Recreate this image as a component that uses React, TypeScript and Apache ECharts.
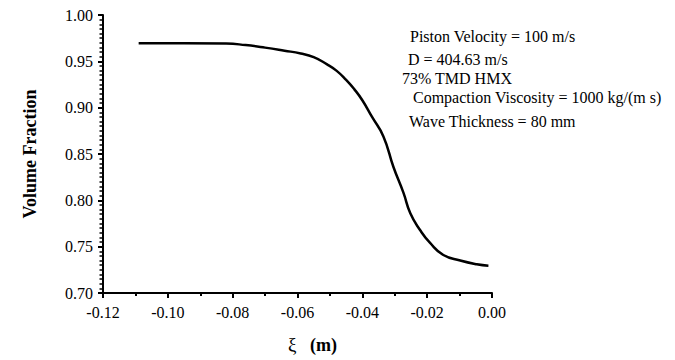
import React, { useEffect, useRef } from "react";
import * as echarts from "echarts";

const xiValues = [-0.109, -0.095, -0.082, -0.076, -0.070, -0.064, -0.059, -0.055, -0.051, -0.048, -0.045, -0.0425, -0.040, -0.037, -0.0335, -0.0304, -0.0273, -0.0252, -0.0222, -0.0191, -0.015, -0.0098, -0.0047, -0.0011];
const volumeFraction = [0.9695, 0.9695, 0.9692, 0.9675, 0.9648, 0.9615, 0.9585, 0.9545, 0.947, 0.940, 0.930, 0.920, 0.908, 0.890, 0.869, 0.836, 0.808, 0.786, 0.768, 0.754, 0.741, 0.735, 0.731, 0.7295];
const annotations = [
  "Piston Velocity = 100 m/s",
  "D = 404.63 m/s",
  "73% TMD HMX",
  "Compaction Viscosity = 1000 kg/(m s)",
  "Wave Thickness = 80 mm",
];

const FONT = "Liberation Serif";

export default function App() {
  const ref = useRef<HTMLDivElement>(null);
  useEffect(() => {
    if (!ref.current) return;
    const chart = echarts.init(ref.current, null, { renderer: "svg" });
    const fmt = (v: number) => (Math.abs(v) < 1e-9 ? "0.00" : v.toFixed(2));
    const annX = [410, 408, 402, 413, 409];
    const annY = [37, 60, 79, 98, 122];
    chart.setOption({
      animation: false,
      backgroundColor: "#fff",
      grid: { left: 103, right: 183, top: 15, bottom: 67 },
      xAxis: {
        type: "value",
        min: -0.12,
        max: 0,
        interval: 0.02,
        axisLine: { show: true, onZero: false, lineStyle: { color: "#000", width: 2 } },
        axisTick: { show: true, length: 5, lineStyle: { color: "#000", width: 2 } },
        minorTick: { show: true, splitNumber: 2, length: 3, lineStyle: { color: "#000", width: 2 } },
        splitLine: { show: false },
        axisLabel: { formatter: fmt, color: "#000", fontFamily: FONT, fontSize: 16, margin: 11 },
        name: "{a|ξ}    {b|(m)}",
        nameLocation: "middle",
        nameGap: 42,
        nameTextStyle: {
          color: "#000",
          padding: [0, 0, 0, 30],
          rich: {
            a: { fontFamily: FONT, fontSize: 19, color: "#000" },
            b: { fontFamily: FONT, fontSize: 18, fontWeight: "bold", color: "#000" },
          },
        },
      },
      yAxis: {
        type: "value",
        min: 0.7,
        max: 1.0,
        interval: 0.05,
        axisLine: { show: true, onZero: false, lineStyle: { color: "#000", width: 2 } },
        axisTick: { show: true, length: 5, lineStyle: { color: "#000", width: 2 } },
        minorTick: { show: true, splitNumber: 10, length: 3.5, lineStyle: { color: "#000", width: 1.5 } },
        splitLine: { show: false },
        axisLabel: { formatter: fmt, color: "#000", fontFamily: FONT, fontSize: 16, margin: 10 },
        name: "Volume Fraction",
        nameLocation: "middle",
        nameGap: 64,
        nameTextStyle: { color: "#000", fontFamily: FONT, fontSize: 18, fontWeight: "bold" },
      },
      series: [
        {
          type: "line",
          data: xiValues.map((x, i) => [x, volumeFraction[i]]),
          showSymbol: false,
          smooth: 0.5,
          lineStyle: { color: "#000", width: 2.5 },
        },
      ],
      graphic: annotations.map((t, i) => ({
        type: "text",
        left: annX[i],
        top: annY[i] - 9,
        style: { text: t, fill: "#000", fontFamily: FONT, fontSize: 16 },
      })),
    });
    return () => chart.dispose();
  }, []);
  return <div ref={ref} style={{ width: 675, height: 360, position: "absolute", left: 0, top: 0, background: "#fff" }} />;
}
